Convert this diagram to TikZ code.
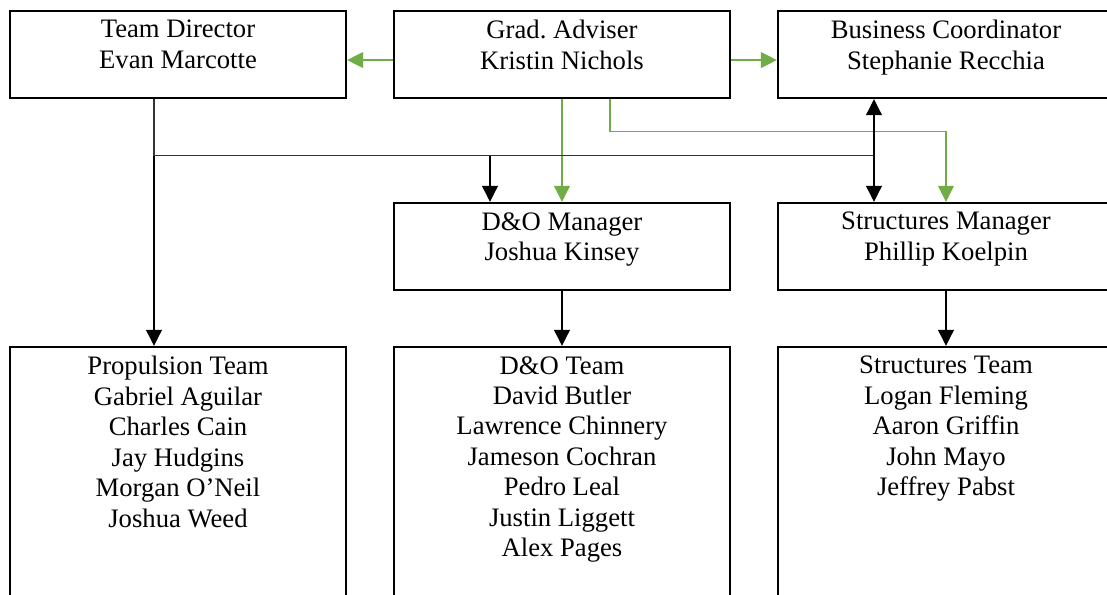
\documentclass[tikz,border=0pt]{standalone}
\usepackage{fontspec}
\setmainfont{Liberation Serif}
\usetikzlibrary{positioning,arrows.meta}
\definecolor{leafgreen}{RGB}{112,173,71}

\begin{document}
\begin{tikzpicture}[x=0.45pt, y=-0.45pt,
        every node/.style={font=\fontsize{12}{13.7}\selectfont},
        rolebox/.style={rectangle, draw, line width=1pt,
            minimum width=151.2pt, minimum height=39.15pt, inner sep=0pt},
        teambox/.style={rolebox, minimum height=131.85pt},
        boxtext/.style={align=center, inner sep=0pt,
            execute at begin node={\rule{0pt}{9pt}}},
        link/.style={-{Triangle[length=7.2pt, width=7pt]}, line width=1pt},
        duallink/.style={{Triangle[length=7.2pt, width=7pt]}-{Triangle[length=7.2pt, width=7pt]},
            line width=1pt},
        greenlink/.style={link, draw=leafgreen},
        thinlink/.style={line width=0.55pt, draw=black!80}
      ]
      \useasboundingbox (0,0) rectangle (1107,595);
      \clip (0,0) rectangle (1107,595);
      % top row
      \node[rolebox] (td) at (178, 54.5) {};
      \node[boxtext, below=4.5pt of td.north] (tdt) {Team Director\\Evan Marcotte};
      \node[rolebox] (ga) at (562, 54.5) {};
      \node[boxtext, below=4.5pt of ga.north] (gat) {Grad.\ Adviser\\Kristin Nichols};
      \node[rolebox] (bc) at (946, 54.5) {};
      \node[boxtext, below=4.5pt of bc.north] (bct) {Business Coordinator\\Stephanie Recchia};
      % managers
      \node[rolebox] (dom) at (562, 246.5) {};
      \node[boxtext, below=4.5pt of dom.north] (domt) {D\&O Manager\\Joshua Kinsey};
      \node[rolebox] (sm) at (946, 246.5) {};
      \node[boxtext, below=4.5pt of sm.north] (smt) {Structures Manager\\Phillip Koelpin};
      % teams
      \node[teambox] (prop) at (178, 493.5) {};
      \node[boxtext, below=4.5pt of prop.north] (propt)
      {Propulsion Team\\Gabriel Aguilar\\Charles Cain\\Jay Hudgins\\Morgan O’Neil\\Joshua Weed};
      \node[teambox] (dot) at (562, 493.5) {};
      \node[boxtext, below=4.5pt of dot.north] (dott)
      {D\&O Team\\David Butler\\Lawrence Chinnery\\Jameson Cochran\\Pedro Leal\\Justin Liggett\\Alex Pages};
      \node[teambox] (st) at (946, 493.5) {};
      \node[boxtext, below=4.5pt of st.north] (stt)
      {Structures Team\\Logan Fleming\\Aaron Griffin\\John Mayo\\Jeffrey Pabst};
      % helper rows
      \coordinate (bus) at (0, 155.7);
      \coordinate (gturn) at (0, 131.7);
      % adviser links
      \draw[greenlink] ([yshift=-2.5pt]ga.west) -- ([yshift=-2.5pt]td.east);
      \draw[greenlink] ([yshift=-2.5pt]ga.east) -- ([yshift=-2.5pt]bc.west);
      \draw[greenlink] (ga.south) -- (dom.north);
      \draw[greenlink, line width=0.55pt] ([xshift=21.6pt]ga.south)
        -- ([xshift=21.6pt]ga.south |- gturn) -| (sm.north);
      % director links
      \draw[thinlink] ([xshift=-10.8pt]td.south) -- ([xshift=-10.8pt]td.south |- bus)
        -- ([xshift=-32.4pt]bc.south |- bus);
      \draw[link] ([xshift=-10.8pt]td.south |- bus) -- ([xshift=-10.8pt]prop.north);
      \draw[link] ([xshift=-32.4pt]dom.north |- bus) -- ([xshift=-32.4pt]dom.north);
      \draw[duallink] ([xshift=-32.4pt]bc.south) -- ([xshift=-32.4pt]sm.north);
      % manager links
      \draw[link] (dom.south) -- (dot.north);
      \draw[link] (sm.south) -- (st.north);
    \end{tikzpicture}
\end{document}
